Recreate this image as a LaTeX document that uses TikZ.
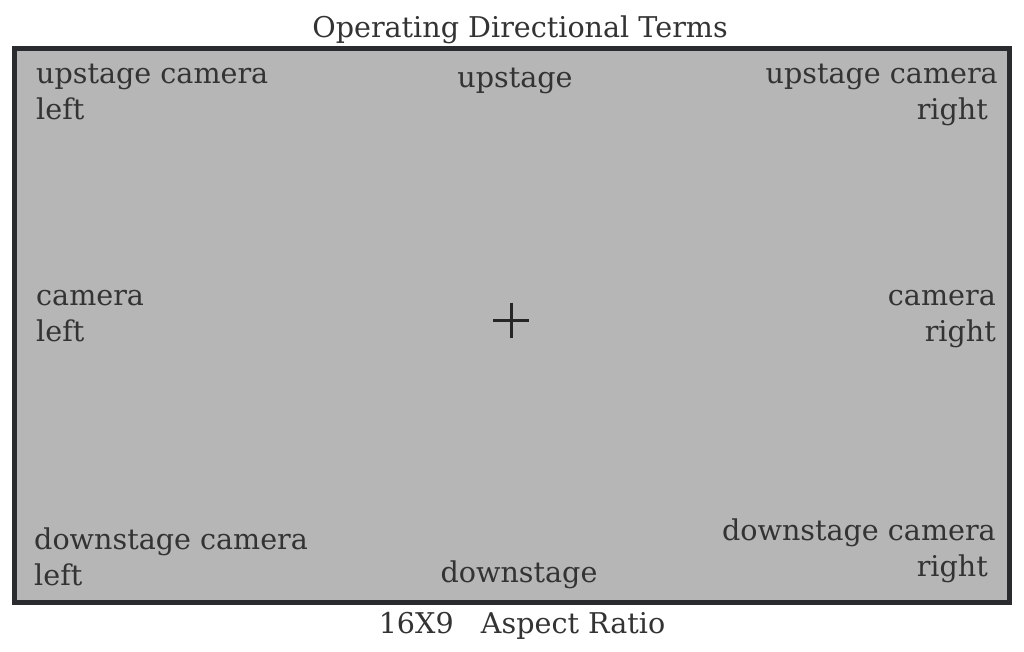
\documentclass[tikz,border=0pt]{standalone}
\usepackage{fontspec}
\setmainfont{DejaVu Serif}
\usetikzlibrary{positioning}
\definecolor{stagegray}{HTML}{B6B6B6}
\definecolor{framedark}{HTML}{2A2B2E}
\definecolor{inkgray}{HTML}{333333}

\begin{document}
\begin{tikzpicture}[x=1pt,y=-1pt,
  stage/.style={draw=framedark,fill=stagegray,line width=5pt,inner sep=0pt},
  term/.style={inner sep=0pt,text=inkgray,font=\fontsize{28.6}{36}\selectfont},
  cross/.style={draw=black!85,line width=3pt}]
  \useasboundingbox (0,0) rectangle (1024,651);
  \node[stage, minimum width=994.5pt, minimum height=554pt] (stage) at (511.75,325.5) {};
  % headings outside the frame
  \node[term, anchor=base] (title) at (520,37) {Operating Directional Terms};
  \node[term, anchor=base] (ratio) at (522,633) {16X9~~~Aspect Ratio};
  % top row (base = last line)
  \node[term, anchor=base west, align=left] (ucl) at (36,119) {upstage camera\\left};
  \node[term, anchor=base] (up) at (515,87) {upstage};
  \node[term, anchor=base east, align=right] (ucr) at (998,119) {upstage camera\\right\hspace*{10pt}};
  % middle row
  \node[term, anchor=base west, align=left] (cl) at (36,341) {camera\\left};
  \coordinate (centre) at (511,320);
  \draw[cross] (centre) ++(-18,0) -- ++(36,0);
  \draw[cross] (centre) ++(0,-17.5) -- ++(0,35);
  \node[term, anchor=base east, align=right] (cr) at (996,341) {camera\\right};
  % bottom row
  \node[term, anchor=base west, align=left] (dcl) at (34,585) {downstage camera\\left};
  \node[term, anchor=base] (down) at (519,582) {downstage};
  \node[term, anchor=base east, align=right] (dcr) at (996,576) {downstage camera\\right\hspace*{8pt}};
\end{tikzpicture}
\end{document}
